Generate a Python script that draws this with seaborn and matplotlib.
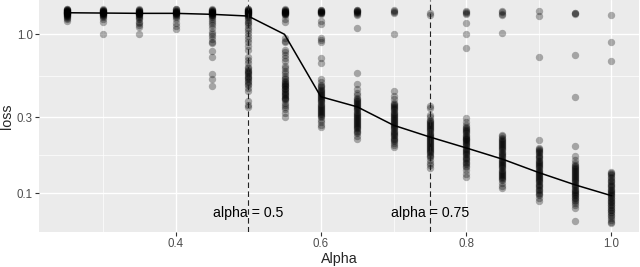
import numpy as np
import pandas as pd
import matplotlib
matplotlib.use("Agg")
import matplotlib.pyplot as plt
from matplotlib.ticker import NullFormatter
import seaborn as sns

#(1) values

# alpha values on the x axis
alphas = [0.25, 0.30, 0.35, 0.40, 0.45, 0.50, 0.55, 0.60,
          0.65, 0.70, 0.75, 0.80, 0.85, 0.90, 0.95, 1.00]

# loss of every run, one list per alpha
a25 = [1.45, 1.44, 1.43, 1.42, 1.42, 1.41, 1.40, 1.40, 1.39, 1.39, 1.38, 1.38, 1.37, 1.37,
       1.36, 1.36, 1.35, 1.35, 1.34, 1.33, 1.32, 1.31, 1.30, 1.28, 1.26, 1.24, 1.21]
a30 = [1.44, 1.43, 1.42, 1.41, 1.40, 1.40, 1.39, 1.38, 1.38, 1.37, 1.37, 1.36, 1.36, 1.35,
       1.34, 1.33, 1.32, 1.30, 1.28, 1.25, 1.20, 1.00]
a35 = [1.44, 1.43, 1.42, 1.41, 1.40, 1.39, 1.39, 1.38, 1.37, 1.37, 1.36, 1.35, 1.35, 1.34,
       1.33, 1.31, 1.29, 1.27, 1.24, 1.20, 1.17, 1.14, 1.11, 1.01]
a40 = [1.45, 1.44, 1.42, 1.41, 1.40, 1.39, 1.39, 1.38, 1.37, 1.37, 1.36, 1.35, 1.34, 1.33,
       1.31, 1.28, 1.24, 1.18, 1.13, 1.075]
a45 = [1.44, 1.43, 1.42, 1.41, 1.40, 1.39, 1.38, 1.38, 1.37, 1.36, 1.36, 1.35, 1.34, 1.33,
       1.32, 1.30, 1.28, 1.25, 1.22, 1.18, 1.14, 1.10, 1.04, 1.00, 0.97, 0.93, 0.90, 0.88,
       0.78, 0.72, 0.56, 0.52, 0.47]
a50 = [1.45, 1.44, 1.43, 1.42, 1.41, 1.40, 1.40, 1.39, 1.38, 1.38, 1.37, 1.36, 1.36, 1.35,
       1.34, 1.33, 1.32, 1.30, 1.28, 1.26, 1.23, 1.20, 1.17, 1.14, 1.10, 1.06, 1.02, 0.98,
       0.94, 0.90, 0.85, 0.80, 0.72, 0.69, 0.66, 0.62, 0.61, 0.60, 0.59, 0.58, 0.57, 0.56,
       0.55, 0.54, 0.53, 0.52, 0.51, 0.50, 0.49, 0.48, 0.46, 0.44, 0.38, 0.36, 0.35]
a55 = [1.44, 1.43, 1.42, 1.41, 1.40, 1.39, 1.39, 1.38, 1.37, 1.37, 1.36, 1.35, 1.34, 1.32,
       1.25, 1.19, 0.95, 0.91, 0.89, 0.80, 0.77, 0.74, 0.71, 0.68, 0.63, 0.61, 0.59, 0.57,
       0.55, 0.53, 0.52, 0.51, 0.50, 0.495, 0.49, 0.48, 0.475, 0.47, 0.46, 0.455, 0.45, 0.44,
       0.435, 0.43, 0.42, 0.415, 0.41, 0.40, 0.395, 0.39, 0.385, 0.37, 0.36, 0.35, 0.34,
       0.32, 0.30]
a60 = [1.43, 1.42, 1.41, 1.40, 1.39, 1.38, 1.38, 1.37, 1.36, 1.35, 1.21, 1.16, 0.95, 0.92,
       0.89, 0.71, 0.66, 0.52, 0.50, 0.48, 0.47, 0.463, 0.456, 0.449, 0.442, 0.435, 0.428,
       0.421, 0.415, 0.409, 0.403, 0.397, 0.391, 0.385, 0.379, 0.373, 0.367, 0.361, 0.356,
       0.351, 0.346, 0.341, 0.336, 0.331, 0.326, 0.321, 0.316, 0.311, 0.306, 0.30, 0.29,
       0.28, 0.27, 0.26]
a65 = [1.43, 1.42, 1.41, 1.40, 1.39, 1.38, 1.37, 1.35, 1.32, 1.09, 0.57, 0.49, 0.45, 0.43,
       0.415, 0.40, 0.394, 0.388, 0.382, 0.376, 0.370, 0.364, 0.358, 0.352, 0.347, 0.342,
       0.337, 0.332, 0.327, 0.322, 0.317, 0.312, 0.307, 0.302, 0.297, 0.292, 0.288, 0.284,
       0.280, 0.276, 0.272, 0.268, 0.264, 0.260, 0.256, 0.252, 0.248, 0.244, 0.24, 0.23,
       0.22]
a70 = [1.42, 1.40, 1.38, 1.36, 1.00, 0.44, 0.41, 0.39, 0.37, 0.364, 0.358, 0.352, 0.347,
       0.342, 0.337, 0.332, 0.327, 0.322, 0.317, 0.312, 0.307, 0.302, 0.297, 0.292, 0.288,
       0.284, 0.280, 0.276, 0.272, 0.268, 0.264, 0.260, 0.256, 0.252, 0.248, 0.244, 0.240,
       0.236, 0.232, 0.228, 0.224, 0.220, 0.216, 0.212, 0.208, 0.20, 0.195]
a75 = [1.37, 1.33, 0.355, 0.345, 0.31, 0.30, 0.29, 0.285, 0.281, 0.277, 0.273, 0.269, 0.265,
       0.261, 0.257, 0.253, 0.249, 0.245, 0.241, 0.237, 0.233, 0.229, 0.226, 0.223, 0.220,
       0.217, 0.214, 0.211, 0.208, 0.205, 0.202, 0.199, 0.196, 0.193, 0.190, 0.187, 0.184,
       0.181, 0.178, 0.175, 0.172, 0.17, 0.163, 0.156, 0.15, 0.145]
a80 = [1.40, 1.38, 1.36, 1.34, 1.17, 1.00, 0.82, 0.296, 0.28, 0.27, 0.262, 0.258, 0.254,
       0.250, 0.246, 0.242, 0.238, 0.234, 0.230, 0.227, 0.224, 0.221, 0.218, 0.215, 0.212,
       0.209, 0.206, 0.203, 0.200, 0.197, 0.194, 0.191, 0.188, 0.185, 0.182, 0.179, 0.176,
       0.173, 0.170, 0.167, 0.164, 0.161, 0.158, 0.155, 0.152, 0.149, 0.147, 0.14, 0.133,
       0.127]
a85 = [1.40, 1.38, 1.35, 1.32, 1.02, 0.233, 0.228, 0.223, 0.219, 0.216, 0.213, 0.210, 0.207,
       0.204, 0.201, 0.198, 0.195, 0.192, 0.189, 0.186, 0.183, 0.180, 0.177, 0.174, 0.171,
       0.168, 0.165, 0.163, 0.160, 0.158, 0.155, 0.153, 0.150, 0.148, 0.146, 0.144, 0.141,
       0.139, 0.137, 0.135, 0.133, 0.131, 0.129, 0.127, 0.125, 0.123, 0.121, 0.116, 0.111,
       0.108]
a90 = [1.40, 1.30, 0.72, 0.216, 0.193, 0.19, 0.187, 0.184, 0.181, 0.178, 0.175, 0.172, 0.169,
       0.166, 0.163, 0.160, 0.157, 0.155, 0.153, 0.150, 0.148, 0.146, 0.144, 0.141, 0.139,
       0.137, 0.135, 0.133, 0.131, 0.129, 0.127, 0.125, 0.123, 0.121, 0.119, 0.117, 0.115,
       0.113, 0.111, 0.109, 0.107, 0.105, 0.103, 0.101, 0.099, 0.097, 0.094, 0.09]
a95 = [1.37, 1.36, 1.35, 0.74, 0.405, 0.198, 0.172, 0.162, 0.156, 0.151, 0.149, 0.147, 0.145,
       0.143, 0.141, 0.139, 0.137, 0.135, 0.133, 0.131, 0.129, 0.127, 0.125, 0.123, 0.121,
       0.119, 0.117, 0.115, 0.113, 0.111, 0.109, 0.107, 0.105, 0.103, 0.102, 0.100, 0.099,
       0.097, 0.096, 0.094, 0.093, 0.091, 0.089, 0.087, 0.084, 0.081, 0.067]
a100 = [1.32, 0.90, 0.68, 0.137, 0.135, 0.133, 0.13, 0.127, 0.124, 0.121, 0.119, 0.117, 0.115,
        0.113, 0.111, 0.109, 0.107, 0.105, 0.103, 0.102, 0.100, 0.099, 0.097, 0.096, 0.094,
        0.093, 0.091, 0.090, 0.088, 0.087, 0.085, 0.084, 0.082, 0.081, 0.079, 0.078, 0.076,
        0.075, 0.073, 0.072, 0.070, 0.068, 0.066, 0.065]

# summary line through the runs
line_loss = [1.367, 1.361, 1.355, 1.355, 1.336, 1.303, 1.0, 0.405,
             0.350, 0.268, 0.226, 0.193, 0.164, 0.135, 0.113, 0.0966]

# reference lines and their labels
vlines = [0.5, 0.75]
vline_labels = ["alpha = 0.5", "alpha = 0.75"]
label_y = 0.0751

#(2) long dataframe for seaborn
groups = [a25, a30, a35, a40, a45, a50, a55, a60, a65, a70, a75, a80, a85, a90, a95, a100]
runs = pd.DataFrame({"Alpha": np.repeat(alphas, [len(g) for g in groups]),
                     "loss": np.concatenate(groups)})
summary = pd.DataFrame({"Alpha": alphas, "loss": line_loss})

#(3) plotting
sns.set_theme(style="darkgrid", rc={"axes.facecolor": "#EBEBEB", "grid.color": "white"})
plt.rcParams["font.family"] = ["Liberation Sans", "DejaVu Sans"]

fig = plt.figure(figsize=(6.4, 2.67), dpi=100)
ax = fig.add_axes([0.0614, 0.132, 0.9366, 0.868])

sns.scatterplot(data=runs, x="Alpha", y="loss", color="black", alpha=0.3, s=28,
                linewidth=0, ax=ax, zorder=2)
sns.lineplot(data=summary, x="Alpha", y="loss", color="black", linewidth=1.1, ax=ax, zorder=3)

for xv, txt in zip(vlines, vline_labels):
    ax.axvline(xv, color="#222222", linestyle=(0, (5, 3)), linewidth=0.8, zorder=4)
    ax.text(xv, label_y, txt, ha="center", va="center", fontsize=10.2, color="black", zorder=5)

ax.set_yscale("log")
ax.set_xlim(0.2125, 1.0375)
ax.set_ylim(0.0573, 1.644)

ax.set_yticks([0.1, 0.3, 1.0])
ax.set_yticklabels(["0.1", "0.3", "1.0"])
ax.set_yticks([np.sqrt(0.03), np.sqrt(0.3)], minor=True)
ax.yaxis.set_minor_formatter(NullFormatter())
ax.set_xticks([0.4, 0.6, 0.8, 1.0])
ax.set_xticklabels(["0.4", "0.6", "0.8", "1.0"])
ax.set_xticks([0.3, 0.5, 0.7, 0.9], minor=True)

ax.grid(which="major", color="white", linewidth=1.0)
ax.grid(which="minor", color="white", linewidth=0.5)
ax.tick_params(which="minor", length=0, bottom=False, left=False)
ax.tick_params(which="major", bottom=True, left=True, length=2.75, width=0.8,
               color="#333333", labelcolor="#4D4D4D", labelsize=8.3, pad=2)
for s in ax.spines.values():
    s.set_visible(False)

ax.set_xlabel("Alpha", fontsize=10.3, labelpad=1)
ax.set_ylabel("loss", fontsize=10.3, labelpad=2)

fig.savefig("out.png", dpi=100)
